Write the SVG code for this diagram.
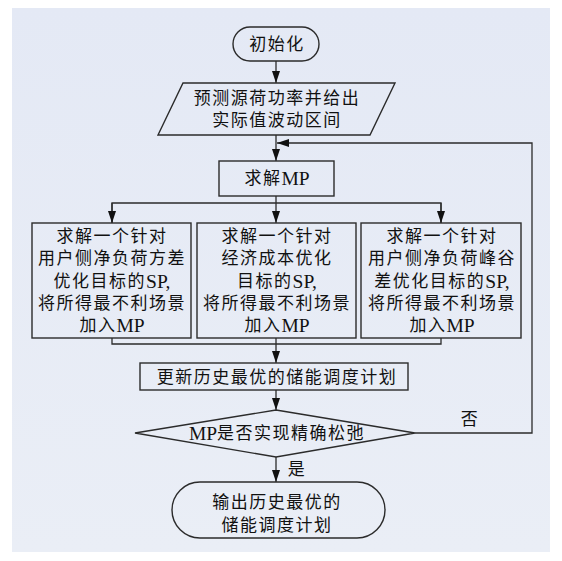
<svg xmlns="http://www.w3.org/2000/svg" width="562" height="561" viewBox="0 0 562 561">
<defs>
<linearGradient id="bg" x1="0" y1="0" x2="0" y2="1">
<stop offset="0" stop-color="#e4e9f5"/>
<stop offset="1" stop-color="#eaeef6"/>
</linearGradient>
<marker id="ah" viewBox="0 0 12 8" refX="12" refY="4" markerWidth="12" markerHeight="8" markerUnits="userSpaceOnUse" orient="auto">
<path d="M0,0 L12,4 L0,8 Z" fill="#111"/>
</marker>
<style>
.s{fill:none;stroke:#2b2b2b;stroke-width:1.4}
.c{fill:none;stroke:#2b2b2b;stroke-width:1.3}
.t{font-family:"Liberation Serif","Noto Sans CJK SC",serif;font-size:17px;fill:#111;text-anchor:middle;dominant-baseline:central;letter-spacing:1.5px}
.l{font-size:19.5px;letter-spacing:0}
</style>
</defs>
<rect x="0" y="0" width="562" height="561" fill="#ffffff"/>
<rect x="12" y="8" width="538" height="544" fill="url(#bg)"/>

<g id="connectors">
<line class="c" x1="276" y1="61" x2="276" y2="83" marker-end="url(#ah)"/>
<line class="c" x1="276" y1="135" x2="276" y2="161" marker-end="url(#ah)"/>
<polyline class="c" points="276,196 276,203"/>
<polyline class="c" points="112,223 112,203 441,203 441,223"/>
<line class="c" x1="112" y1="203" x2="112" y2="223" marker-end="url(#ah)"/>
<line class="c" x1="276" y1="203" x2="276" y2="223" marker-end="url(#ah)"/>
<line class="c" x1="441" y1="203" x2="441" y2="223" marker-end="url(#ah)"/>
<polyline class="c" points="112,338 112,344 441,344 441,338"/>
<line class="c" x1="276" y1="338" x2="276" y2="344"/>
<line class="c" x1="276" y1="344" x2="276" y2="363" marker-end="url(#ah)"/>
<line class="c" x1="276" y1="390" x2="276" y2="410" marker-end="url(#ah)"/>
<line class="c" x1="276" y1="457" x2="276" y2="482" marker-end="url(#ah)"/>
<polyline class="c" points="415,433 532,433 532,143 277,143" marker-end="url(#ah)"/>
<text class="t" x="470" y="419">否</text>
<text class="t" x="297" y="469">是</text>
</g>

<g id="start">
<rect class="s" x="233" y="27" width="86" height="34" rx="17" ry="17"/>
<text class="t" x="277" y="44">初始化</text>
</g>

<g id="forecast">
<polygon class="s" points="183,83 395,83 370,135 158,135"/>
<text class="t" x="277" y="98">预测源荷功率并给出</text>
<text class="t" x="277" y="120">实际值波动区间</text>
</g>

<g id="solveMP">
<rect class="s" x="219" y="161" width="115" height="35"/>
<text class="t" x="277" y="178">求解<tspan class="l">MP</tspan></text>
</g>

<g id="sp1">
<rect class="s" x="32" y="223" width="159" height="115"/>
<text class="t" x="112" y="236">求解一个针对</text>
<text class="t" x="112" y="258">用户侧净负荷方差</text>
<text class="t" x="112" y="281">优化目标的<tspan class="l">SP,</tspan></text>
<text class="t" x="112" y="303">将所得最不利场景</text>
<text class="t" x="112" y="325">加入<tspan class="l">MP</tspan></text>
</g>

<g id="sp2">
<rect class="s" x="197" y="223" width="159" height="115"/>
<text class="t" x="277" y="236">求解一个针对</text>
<text class="t" x="277" y="258">经济成本优化</text>
<text class="t" x="277" y="281">目标的<tspan class="l">SP,</tspan></text>
<text class="t" x="277" y="303">将所得最不利场景</text>
<text class="t" x="277" y="325">加入<tspan class="l">MP</tspan></text>
</g>

<g id="sp3">
<rect class="s" x="361" y="223" width="160" height="115"/>
<text class="t" x="442" y="236">求解一个针对</text>
<text class="t" x="442" y="258">用户侧净负荷峰谷</text>
<text class="t" x="442" y="281">差优化目标的<tspan class="l">SP,</tspan></text>
<text class="t" x="442" y="303">将所得最不利场景</text>
<text class="t" x="442" y="325">加入<tspan class="l">MP</tspan></text>
</g>

<g id="update">
<rect class="s" x="140" y="363" width="268" height="27"/>
<text class="t" x="277" y="377">更新历史最优的储能调度计划</text>
</g>

<g id="decision">
<polygon class="s" points="276,410 415,433 276,457 135,433"/>
<text class="t" x="277" y="433"><tspan class="l">MP</tspan>是否实现精确松弛</text>
</g>

<g id="end">
<rect class="s" x="172" y="482" width="213" height="56" rx="28" ry="28"/>
<text class="t" x="277" y="502">输出历史最优的</text>
<text class="t" x="277" y="525">储能调度计划</text>
</g>
</svg>
